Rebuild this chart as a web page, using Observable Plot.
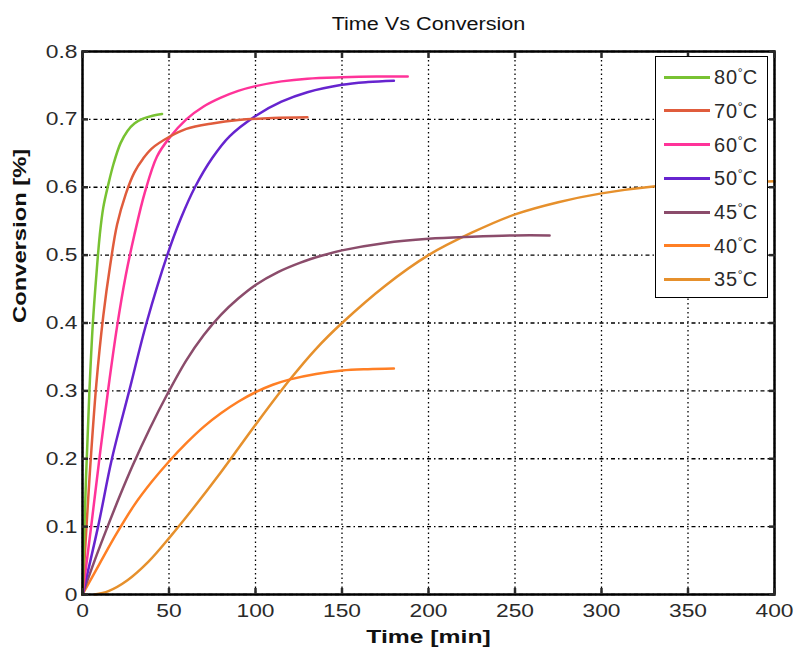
<!DOCTYPE html>
<html>
<head>
<meta charset="utf-8">
<script src="https://cdn.jsdelivr.net/npm/d3@7"></script>
<script src="https://cdn.jsdelivr.net/npm/@observablehq/plot@0.6"></script>
<style>
  html, body { margin: 0; padding: 0; background: #fff; }
  #wrap { position: relative; width: 795px; height: 650px; overflow: hidden; }
  #legend { position: absolute; left: 655px; top: 56px; width: 111px; height: 240px;
            border: 1.5px solid #000; background: #fff; font-family: "Liberation Sans", Arial, sans-serif; }
  .row { position: absolute; left: 0; height: 0; }
  .sw { position: absolute; left: 7.5px; width: 46px; height: 3px; top: -1.5px; }
  .lab { position: absolute; left: 58px; top: -11px; font-size: 20px; line-height: 22px; color: #2a2a2a;
         white-space: nowrap; letter-spacing: 0.8px; }
  .deg { font-size: 12px; position: relative; top: -7px; letter-spacing: 0; }
</style>
</head>
<body>
<div id="wrap"></div>
<script>
// ---- data ----
const titleText = "Time Vs Conversion";
const xLabelText = "Time [min]";
const yLabelText = "Conversion [%]";
const xTicks = [0, 50, 100, 150, 200, 250, 300, 350, 400];
const yTicks = [0, 0.1, 0.2, 0.3, 0.4, 0.5, 0.6, 0.7, 0.8];

const seriesNames = ["80", "70", "60", "50", "45", "40", "35"];
const seriesColors = ["#78c232", "#e05c3c", "#ff3399", "#6624cf", "#8b4c6b", "#ff7f24", "#e6902c"];

const t80 = [0, 2, 4, 6, 8, 10, 12, 15, 18, 22, 26, 30, 35, 40, 46];
const c80 = [0, 0.17, 0.30, 0.40, 0.47, 0.53, 0.57, 0.605, 0.635, 0.665, 0.683, 0.694, 0.701, 0.705, 0.708];

const t70 = [0, 4, 8, 12, 16, 20, 25, 30, 35, 40, 50, 60, 75, 90, 110, 130];
const c70 = [0, 0.17, 0.31, 0.41, 0.485, 0.545, 0.59, 0.622, 0.642, 0.657, 0.674, 0.686, 0.694, 0.699, 0.702, 0.703];

const t60 = [0, 5, 10, 15, 20, 25, 30, 36, 43, 50, 60, 70, 80, 90, 100, 115, 130, 150, 170, 188];
const c60 = [0, 0.1, 0.205, 0.305, 0.395, 0.47, 0.53, 0.592, 0.645, 0.672, 0.70, 0.719, 0.732, 0.742, 0.749, 0.756, 0.76, 0.762, 0.763, 0.763];

const t50 = [0, 9, 17, 27, 37, 49, 57, 65, 75, 85, 100, 115, 130, 150, 165, 180];
const c50 = [0, 0.1, 0.2, 0.3, 0.4, 0.5, 0.555, 0.6, 0.643, 0.675, 0.705, 0.726, 0.74, 0.751, 0.755, 0.757];

const t45 = [0, 7, 14.5, 22, 29, 39, 49, 60, 70, 80, 90, 100, 113, 126, 138, 150, 175, 200, 225, 250, 270];
const c45 = [0, 0.05, 0.1, 0.148, 0.19, 0.245, 0.295, 0.345, 0.382, 0.412, 0.436, 0.456, 0.475, 0.489, 0.499, 0.507, 0.518, 0.524, 0.527, 0.529, 0.529];

const t40 = [0, 10, 20, 30, 40, 50, 60, 70, 80, 90, 100, 110, 120, 135, 150, 165, 180];
const c40 = [0, 0.046, 0.091, 0.132, 0.166, 0.196, 0.223, 0.247, 0.267, 0.284, 0.298, 0.309, 0.317, 0.325, 0.33, 0.332, 0.333];

const t35 = [7, 15, 26, 38, 51, 64, 80, 100, 120, 135, 150, 175, 200, 225, 250, 275, 300, 330, 360, 400];
const c35 = [0, 0.005, 0.021, 0.048, 0.086, 0.127, 0.18, 0.25, 0.317, 0.362, 0.4, 0.455, 0.5, 0.533, 0.56, 0.578, 0.591, 0.601, 0.606, 0.609];

const seriesT = {"80": t80, "70": t70, "60": t60, "50": t50, "45": t45, "40": t40, "35": t35};
const seriesC = {"80": c80, "70": c70, "60": c60, "50": c50, "45": c45, "40": c40, "35": c35};

// long table built from the arrays (drawn 35 first, 80 last)
const rows = [];
for (const s of seriesNames.slice().reverse()) {
  seriesT[s].forEach((t, i) => rows.push({series: s, t, c: seriesC[s][i]}));
}

const font = "'Liberation Sans', Arial, Helvetica, sans-serif";
const tickOnly = () => "";

const chart = Plot.plot({
  width: 795,
  height: 650,
  marginLeft: 82,
  marginRight: 21,
  marginTop: 51,
  marginBottom: 56,
  style: {fontFamily: font, fontSize: "19px", color: "#2a2a2a", background: "white"},
  x: {domain: [0, 400]},
  y: {domain: [0, 0.8]},
  color: {domain: seriesNames, range: seriesColors},
  marks: [
    Plot.gridX(xTicks, {stroke: "#000", strokeOpacity: 1, strokeWidth: 1.3, strokeDasharray: "1.5,3"}),
    Plot.gridY(yTicks, {stroke: "#000", strokeOpacity: 1, strokeWidth: 1.3, strokeDasharray: "4,3,1.5,3"}),
    Plot.line(rows, {x: "t", y: "c", z: "series", stroke: "series", strokeWidth: 2.5, curve: "catmull-rom"}),
    Plot.frame({stroke: "#000", strokeWidth: 2.5}),
    Plot.axisX(xTicks, {anchor: "bottom", tickSize: -6, strokeWidth: 2.5, tickFormat: tickOnly, label: null}),
    Plot.axisX(xTicks, {anchor: "top", tickSize: -6, strokeWidth: 2.5, tickFormat: tickOnly, label: null}),
    Plot.axisY(yTicks, {anchor: "left", tickSize: -6, strokeWidth: 2.5, tickFormat: tickOnly, label: null}),
    Plot.axisY(yTicks, {anchor: "right", tickSize: -6, strokeWidth: 2.5, tickFormat: tickOnly, label: null}),
    Plot.axisX(xTicks, {anchor: "bottom", tickSize: 0, tickPadding: 9, label: null, fontSize: 19, fill: "#2a2a2a"}),
    Plot.axisY(yTicks, {anchor: "left", tickSize: 0, tickPadding: 5, label: null, fontSize: 19, fill: "#2a2a2a",
      tickFormat: d => d === 0 ? "0" : d.toFixed(1)}),
    Plot.text([titleText], {frameAnchor: "top", dy: -27.5, lineAnchor: "middle", fontSize: 18, fill: "#111"}),
    Plot.text([xLabelText], {frameAnchor: "bottom", dy: 48, lineAnchor: "bottom", fontSize: 19, fontWeight: "bold", fill: "#111"}),
    Plot.text([yLabelText], {frameAnchor: "left", dx: -63, rotate: -90, lineAnchor: "middle", fontSize: 19, fontWeight: "bold", fill: "#111"})
  ]
});

const wrap = document.getElementById("wrap");
wrap.appendChild(chart);

// widen glyphs along the baseline, as in the reference rendering
chart.querySelectorAll("text").forEach(el => {
  const s = el.textContent;
  if (!s) return;
  let f = 1.2;
  if (s === titleText) f = 1.2;
  else if (s === xLabelText) f = 1.3;
  else if (s === yLabelText) f = 1.25;
  const L = el.getComputedTextLength();
  if (L > 0) {
    el.setAttribute("textLength", (L * f).toFixed(1));
    el.setAttribute("lengthAdjust", "spacingAndGlyphs");
  }
});

// legend
const legend = document.createElement("div");
legend.id = "legend";
seriesNames.forEach((s, i) => {
  const row = document.createElement("div");
  row.className = "row";
  row.style.top = (20.2 + i * 33.7) + "px";
  const sw = document.createElement("div");
  sw.className = "sw";
  sw.style.background = seriesColors[i];
  const lab = document.createElement("div");
  lab.className = "lab";
  lab.innerHTML = s + '<span class="deg">°</span>C';
  row.appendChild(sw);
  row.appendChild(lab);
  legend.appendChild(row);
});
wrap.appendChild(legend);
</script>
</body>
</html>
